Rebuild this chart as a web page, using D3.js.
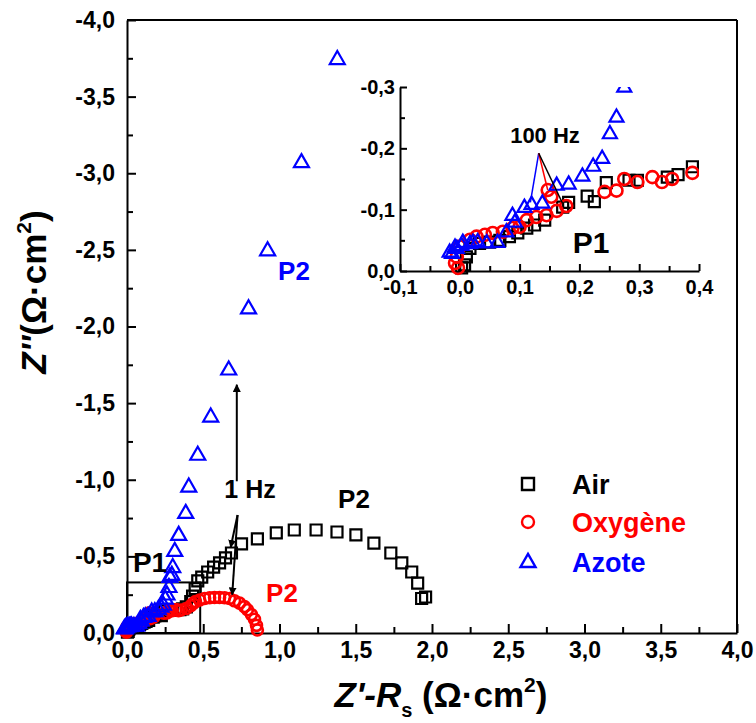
<!DOCTYPE html>
<html><head><meta charset="utf-8">
<script src="https://cdn.jsdelivr.net/npm/d3@7"></script>
<style>body{margin:0;background:#fff}svg{display:block}text{font-family:"Liberation Sans",Arial,sans-serif}</style>
</head><body>
<script>
// Nyquist data: [Z'-Rs, Z''] in Ω·cm²
const airData = [[0.003,-0.005],[0.008,-0.010],[0.011,-0.023],[0.017,-0.037],[0.033,-0.045],[0.050,-0.047],[0.067,-0.050],[0.083,-0.056],[0.097,-0.062],[0.112,-0.070],[0.125,-0.075],[0.142,-0.083],[0.172,-0.104],[0.182,-0.112],[0.213,-0.122],[0.225,-0.113],[0.245,-0.144],[0.283,-0.148],[0.297,-0.148],[0.347,-0.153],[0.365,-0.157],[0.389,-0.170],[0.418,-0.205],[0.43,-0.24],[0.447,-0.29],[0.464,-0.34],[0.490,-0.365],[0.529,-0.398],[0.568,-0.43],[0.607,-0.457],[0.646,-0.49],[0.685,-0.522],[0.751,-0.581],[0.855,-0.614],[0.979,-0.653],[1.097,-0.672],[1.240,-0.672],[1.377,-0.659],[1.501,-0.640],[1.619,-0.587],[1.730,-0.522],[1.802,-0.457],[1.867,-0.398],[1.906,-0.326],[1.932,-0.225],[1.958,-0.235]];
const oxyData = [[-0.003,-0.005],[-0.008,-0.013],[-0.005,-0.023],[0.000,-0.040],[0.017,-0.051],[0.028,-0.056],[0.042,-0.059],[0.055,-0.062],[0.072,-0.064],[0.088,-0.070],[0.100,-0.072],[0.112,-0.083],[0.128,-0.088],[0.145,-0.091],[0.162,-0.098],[0.178,-0.106],[0.153,-0.121],[0.147,-0.132],[0.242,-0.129],[0.262,-0.131],[0.275,-0.150],[0.297,-0.145],[0.322,-0.153],[0.338,-0.145],[0.355,-0.150],[0.389,-0.160],[0.418,-0.178],[0.432,-0.192],[0.449,-0.205],[0.477,-0.215],[0.509,-0.225],[0.542,-0.23],[0.574,-0.232],[0.607,-0.232],[0.640,-0.23],[0.672,-0.225],[0.705,-0.21],[0.738,-0.195],[0.770,-0.172],[0.790,-0.152],[0.816,-0.12],[0.836,-0.09],[0.849,-0.05],[0.855,-0.02]];
const azoteData = [[-0.017,-0.031],[-0.013,-0.029],[-0.008,-0.039],[-0.005,-0.037],[0.003,-0.042],[0.005,-0.047],[0.017,-0.045],[0.022,-0.047],[0.030,-0.048],[0.045,-0.046],[0.063,-0.047],[0.078,-0.064],[0.092,-0.080],[0.088,-0.091],[0.108,-0.104],[0.120,-0.109],[0.138,-0.111],[0.162,-0.140],[0.182,-0.142],[0.205,-0.155],[0.223,-0.171],[0.238,-0.184],[0.251,-0.224],[0.262,-0.251],[0.275,-0.30],[0.281,-0.366],[0.294,-0.379],[0.300,-0.43],[0.313,-0.535],[0.339,-0.640],[0.385,-0.783],[0.405,-0.955],[0.464,-1.163],[0.549,-1.412],[0.667,-1.719],[0.797,-2.118],[0.922,-2.497],[1.144,-3.072],[1.379,-3.745]];

const seriesNames = ["Air","Oxygène","Azote"];
const seriesColors = ["#000000","#ff0000","#0000ff"];
const mainXTicks = [0,0.5,1,1.5,2,2.5,3,3.5,4];
const mainYTicks = [0,-0.5,-1,-1.5,-2,-2.5,-3,-3.5,-4];
const insetXTicks = [-0.1,0,0.1,0.2,0.3,0.4];
const insetYTicks = [0,-0.1,-0.2,-0.3];

const W=756,H=723;
const svg=d3.select("body").append("svg").attr("width",W).attr("height",H);
const fmt = v => (Math.abs(v)<1e-9? "0,0" : d3.format(".1f")(v).replace("\u2212","-").replace(".",","));

const x=d3.scaleLinear([0,4],[127,737]);
const y=d3.scaleLinear([0,-4],[633,20]);
const xi=d3.scaleLinear([-0.1,0.4],[400,699]);
const yi=d3.scaleLinear([0,-0.3],[271,87]);

const defs=svg.append("defs");
defs.append("clipPath").attr("id","insetClip").append("rect")
  .attr("x",xi(-0.1)-8).attr("y",yi(-0.3)).attr("width",xi(0.4)-xi(-0.1)+8).attr("height",yi(0)-yi(-0.3)+8);
const mk=defs.append("marker").attr("id","arr").attr("viewBox","0 0 10 10").attr("refX",9).attr("refY",5)
  .attr("markerWidth",4).attr("markerHeight",4).attr("orient","auto").attr("markerUnits","strokeWidth");
mk.append("path").attr("d","M0,0L10,5L0,10z").attr("fill","#000");

function drawAxes(g,xs,ys,xt,yt,minorX,minorY,fs,maj,min,xpad,ypad){
  g.append("g").attr("transform",`translate(0,${ys.range()[0]})`)
    .call(d3.axisBottom(xs).tickValues(xt).tickFormat(fmt).tickSize(-maj).tickPadding(xpad).tickSizeOuter(0));
  g.append("g").attr("transform",`translate(0,${ys.range()[0]})`)
    .call(d3.axisBottom(xs).tickValues(minorX).tickFormat("").tickSize(-min).tickSizeOuter(0)).select(".domain").remove();
  g.append("g").attr("transform",`translate(${xs.range()[0]},0)`)
    .call(d3.axisLeft(ys).tickValues(yt).tickFormat(fmt).tickSize(-maj).tickPadding(ypad).tickSizeOuter(0));
  g.append("g").attr("transform",`translate(${xs.range()[0]},0)`)
    .call(d3.axisLeft(ys).tickValues(minorY).tickFormat("").tickSize(-min).tickSizeOuter(0)).select(".domain").remove();
  g.selectAll(".domain,.tick line").attr("stroke","#000").attr("stroke-width",2);
  g.selectAll(".tick text").attr("font-size",fs).attr("font-weight","bold").attr("fill","#000")
    .style("font-family",'"Liberation Sans",Arial,sans-serif');
}

// main axes
const gm=svg.append("g");
drawAxes(gm,x,y,mainXTicks,mainYTicks,d3.range(0.25,4,0.5),d3.range(-0.25,-4,-0.5),"23px",9,6,9,12);
gm.append("line").attr("x1",x(0)).attr("x2",x(4)).attr("y1",y(-4)).attr("y2",y(-4)).attr("stroke","#000").attr("stroke-width",2);
gm.append("line").attr("x1",x(4)).attr("x2",x(4)).attr("y1",y(-4)).attr("y2",y(0)).attr("stroke","#000").attr("stroke-width",2);

// inset axes
const gi=svg.append("g");
drawAxes(gi,xi,yi,insetXTicks,insetYTicks,d3.range(-0.05,0.4,0.1),d3.range(-0.05,-0.3,-0.1),"20px",7,5,9,5);

// P1 box in main
svg.append("rect").attr("x",x(0)).attr("y",y(-0.33)).attr("width",x(0.48)-x(0)).attr("height",y(0)-y(-0.33))
  .attr("fill","none").attr("stroke","#000").attr("stroke-width",2);

function sym(type,s){
  if(type===0) return `M${-s/2},${-s/2}h${s}v${s}h${-s}z`;
  if(type===1){const p=d3.path();p.arc(0,0,s/2,0,2*Math.PI);return p.toString();}
  const h=s*0.87; return `M0,${-h*0.62}L${s/2},${h*0.38}L${-s/2},${h*0.38}z`;
}
const allData=[airData,oxyData,azoteData];
function drawSeries(g,xs,ys,sizes,clip){
  const gg=g.append("g"); if(clip) gg.attr("clip-path","url(#insetClip)");
  allData.forEach((d,i)=>{
    gg.append("g").selectAll("path").data(d).join("path")
      .attr("d",sym(i,sizes[i])).attr("transform",p=>`translate(${xs(p[0])},${ys(p[1])})`)
      .attr("fill","none").attr("stroke",seriesColors[i]).attr("stroke-width",i===1?2.6:2.2);
  });
}
drawSeries(svg,x,y,[11,11,15],false);
drawSeries(svg,xi,yi,[11,12,14],true);

// annotations
function txt(t,xp,yp,fs,col,anchor){return svg.append("text").attr("x",xp).attr("y",yp).attr("font-size",fs).attr("font-weight","bold").attr("fill",col).attr("text-anchor",anchor||"middle").text(t);}
txt("P1",150,572,"28px","#000");
txt("P2",294,280,"26px","#0000ff");
txt("P2",354,508,"26px","#000");
txt("P2",282,602,"26px","#ff0000");
txt("1 Hz",250,498,"25px","#000");
txt("100 Hz",545,143,"22px","#000");
txt("P1",591,253,"30px","#000");

function arrow(x1,y1,x2,y2,col){svg.append("line").attr("x1",x1).attr("y1",y1).attr("x2",x2).attr("y2",y2).attr("stroke",col).attr("stroke-width",2).attr("marker-end","url(#arr)");}
// 1 Hz arrows (main)
arrow(x(0.72),y(-0.99),x(0.72),y(-1.62),"#000");
arrow(x(0.725),y(-0.77),x(0.68),y(-0.56),"#000");
arrow(x(0.725),y(-0.77),x(0.69),y(-0.25),"#000");
// 100 Hz arrows (inset)
function arrowThin(x1,y1,x2,y2,col){svg.append("line").attr("x1",x1).attr("y1",y1).attr("x2",x2).attr("y2",y2).attr("stroke",col).attr("stroke-width",1.5);}
arrowThin(xi(0.132),yi(-0.192),xi(0.118),yi(-0.112),"#0000ff");
arrowThin(xi(0.132),yi(-0.192),xi(0.147),yi(-0.132),"#ff0000");
arrowThin(xi(0.132),yi(-0.192),xi(0.172),yi(-0.11),"#000");

// legend
const lg=svg.append("g");
const ly=[484,522,562];
seriesNames.forEach((n,i)=>{
  lg.append("path").attr("d",sym(i,i===2?15:12)).attr("transform",`translate(528,${ly[i]})`).attr("fill","none").attr("stroke",seriesColors[i]).attr("stroke-width",2.4);
  lg.append("text").attr("x",572).attr("y",ly[i]+10).attr("font-size","27px").attr("font-weight","bold").attr("fill",seriesColors[i]).text(n);
});

// axis titles
const xt=svg.append("text").attr("x",441).attr("y",707).attr("text-anchor","middle").attr("font-size","35px").attr("font-weight","bold");
xt.append("tspan").attr("font-style","italic").text("Z'-R");
xt.append("tspan").attr("font-size","20px").attr("dy",10).text("s");
xt.append("tspan").attr("dy",-10).text(" (Ω·cm");
xt.append("tspan").attr("font-size","21px").attr("dy",-15).text("2");
xt.append("tspan").attr("dy",15).text(")");
const yt=svg.append("text").attr("transform","translate(46,292) rotate(-90)").attr("text-anchor","middle").attr("font-size","35px").attr("font-weight","bold");
yt.append("tspan").attr("font-style","italic").text("Z''");
yt.append("tspan").text("(Ω·cm");
yt.append("tspan").attr("font-size","21px").attr("dy",-15).text("2");
yt.append("tspan").attr("dy",15).text(")");
</script>
</body></html>
